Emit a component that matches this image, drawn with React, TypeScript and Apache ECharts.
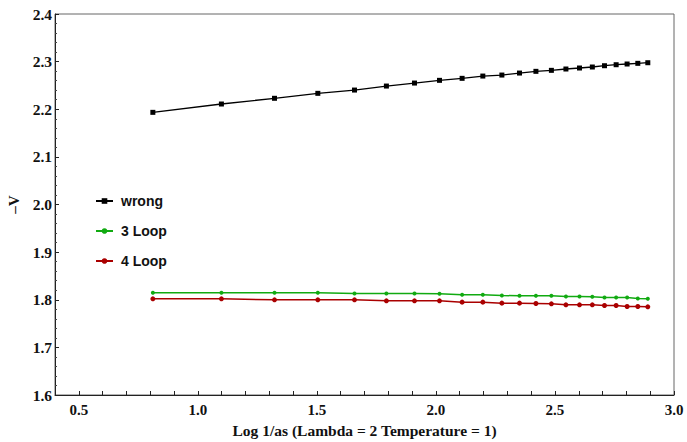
import React, { useEffect, useRef } from "react";
import * as echarts from "echarts";

const xValues = [0.811, 1.099, 1.322, 1.504, 1.658, 1.792, 1.910, 2.015, 2.110, 2.197, 2.277, 2.351, 2.420, 2.485, 2.546, 2.603, 2.657, 2.708, 2.757, 2.803, 2.848, 2.890];
const wrongValues = [2.1935, 2.211, 2.223, 2.2334, 2.2403, 2.2487, 2.255, 2.2607, 2.2649, 2.2697, 2.2718, 2.276, 2.2796, 2.2817, 2.2845, 2.2866, 2.2887, 2.2914, 2.2935, 2.295, 2.2964, 2.2977];
const loop3Values = [1.8145, 1.8145, 1.8145, 1.8145, 1.8132, 1.8132, 1.8132, 1.8124, 1.8103, 1.8103, 1.809, 1.8082, 1.8082, 1.8082, 1.8069, 1.8069, 1.8061, 1.8048, 1.8048, 1.8048, 1.8027, 1.8019];
const loop4Values = [1.8019, 1.8019, 1.7998, 1.7998, 1.7998, 1.7977, 1.7977, 1.7977, 1.795, 1.795, 1.7929, 1.7929, 1.7922, 1.7914, 1.7893, 1.7893, 1.7893, 1.788, 1.788, 1.7859, 1.7859, 1.7851];
const seriesNames = ["wrong", "3 Loop", "4 Loop"];
const xTickLabels = ["0.5", "1.0", "1.5", "2.0", "2.5", "3.0"];
const xAxisTitle = "Log 1/as (Lambda = 2 Temperature = 1)";
const yAxisTitle = "–V";

const pairs = (ys: number[]) => xValues.map((x, i) => [x, ys[i]]);

export default function App() {
  const ref = useRef<HTMLDivElement>(null);
  useEffect(() => {
    if (!ref.current) return;
    const chart = echarts.init(ref.current, null, { renderer: "svg" });
    const serif = "'Liberation Serif', 'Times New Roman', serif";
    const sans = "'Liberation Sans', Arial, sans-serif";
    chart.setOption({
      animation: false,
      backgroundColor: "#fff",
      grid: {
        left: 55, right: 13, top: 14, bottom: 47,
        show: true, borderColor: "#666", borderWidth: 1,
        containLabel: false, outerBoundsMode: "none",
      },
      legend: {
        orient: "vertical",
        left: 95,
        top: 194,
        padding: 0,
        itemGap: 16,
        itemWidth: 17,
        itemHeight: 7,
        textStyle: { fontFamily: sans, fontWeight: "bold", fontSize: 14, color: "#111", padding: [0, 0, 0, 3] },
        data: seriesNames,
      },
      xAxis: {
        type: "value",
        min: 0.4,
        max: 3.0,
        interval: 0.1,
        name: xAxisTitle,
        nameLocation: "middle",
        nameGap: 27,
        nameTextStyle: { fontFamily: serif, fontWeight: "bold", fontSize: 15.5, color: "#111" },
        axisLine: { show: true, lineStyle: { color: "#222", width: 1 } },
        axisTick: { show: true, inside: true, length: 4, lineStyle: { color: "#222" } },
        splitLine: { show: false },
        axisLabel: {
          fontFamily: serif, fontWeight: "bold", fontSize: 15, color: "#111", margin: 7,
          showMinLabel: false,
          formatter: (v: number) => {
            const s = v.toFixed(1);
            return xTickLabels.includes(s) ? s : "";
          },
        },
      },
      yAxis: {
        type: "value",
        min: 1.6,
        max: 2.4,
        interval: 0.1,
        name: yAxisTitle,
        nameLocation: "middle",
        nameGap: 33,
        nameRotate: 90,
        nameTextStyle: { fontFamily: serif, fontWeight: "bold", fontSize: 15, color: "#111" },
        axisLine: { show: true, lineStyle: { color: "#222", width: 1 } },
        axisTick: { show: true, inside: true, length: 4, lineStyle: { color: "#222" } },
        minorTick: { show: true, splitNumber: 5, length: 2, lineStyle: { color: "#444" } },
        splitLine: { show: false },
        axisLabel: {
          fontFamily: serif, fontWeight: "bold", fontSize: 15.5, color: "#111", margin: 3,
          formatter: (v: number) => v.toFixed(1),
        },
      },
      series: [
        {
          name: seriesNames[0], type: "line", data: pairs(wrongValues),
          symbol: "rect", symbolSize: 5,
          lineStyle: { color: "#000", width: 1.3 }, itemStyle: { color: "#000" },
        },
        {
          name: seriesNames[1], type: "line", data: pairs(loop3Values),
          symbol: "circle", symbolSize: 4,
          lineStyle: { color: "#11aa11", width: 1.5 }, itemStyle: { color: "#11aa11" },
        },
        {
          name: seriesNames[2], type: "line", data: pairs(loop4Values),
          symbol: "circle", symbolSize: 5,
          lineStyle: { color: "#aa0000", width: 1.5 }, itemStyle: { color: "#aa0000" },
        },
      ],
    });
    return () => chart.dispose();
  }, []);
  return <div ref={ref} style={{ width: 687, height: 442, position: "absolute", left: 0, top: 0 }} />;
}
